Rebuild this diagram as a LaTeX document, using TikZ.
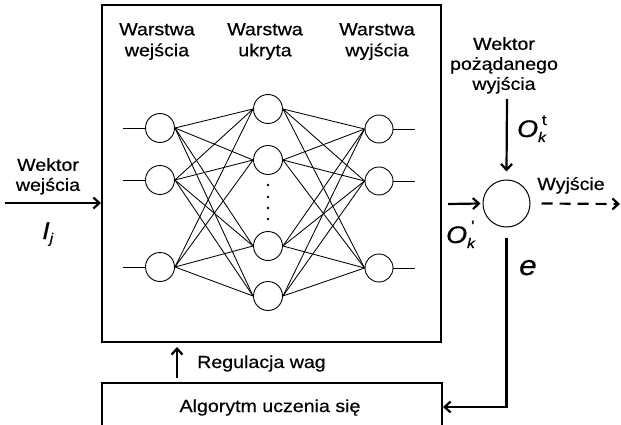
\documentclass[tikz,border=0pt]{standalone}
\usepackage{fontspec}
\setmainfont[FakeStretch=1.12,FakeBold=0.6]{Liberation Sans}
\usetikzlibrary{arrows.meta}
\newcommand{\Olab}[1]{{\fontsize{24}{24}\selectfont\itshape O}\raisebox{-5pt}{\fontsize{14}{14}\selectfont\itshape k}\hspace{-4pt}\raisebox{12pt}{\fontsize{15}{15}\selectfont #1}}
\begin{document}
\begin{tikzpicture}[x=1pt,y=-1pt,
  neuron/.style={circle,draw,line width=0.9pt,minimum size=29pt,inner sep=0pt},
  lbl/.style={font=\fontsize{17.5}{21}\selectfont,align=center,inner sep=0pt},
  conn/.style={line width=0.85pt},
  box/.style={draw,line width=1.1pt},
  arr/.style={line width=2.2pt,-{Straight Barb[length=6pt,width=11pt,line width=2.2pt]}},
]
\useasboundingbox (0,0) rectangle (621,425);

% main network box
\node[box,minimum width=339pt,minimum height=337pt,inner sep=0pt] (net) at (271.5,173.5) {};

% layer headers
\node[lbl,anchor=north] (hin)  at (157,23) {Warstwa\\wejścia};
\node[lbl,anchor=north] (hhid) at (265,23) {Warstwa\\ukryta};
\node[lbl,anchor=north] (hout) at (377,23) {Warstwa\\wyjścia};

% neurons
\node[neuron] (i1) at (160,128) {};
\node[neuron] (i2) at (160,180) {};
\node[neuron] (i3) at (160,267) {};
\node[neuron] (h1) at (268,109) {};
\node[neuron] (h2) at (268,160) {};
\node[neuron] (h3) at (268,246) {};
\node[neuron] (h4) at (268,296) {};
\node[neuron,minimum size=28pt] (o1) at (379,129) {};
\node[neuron,minimum size=28pt] (o2) at (379,181) {};
\node[neuron,minimum size=28pt] (o3) at (379,268) {};

% input / output stubs
\coordinate (si1) at (123,128);
\coordinate (si2) at (123,180);
\coordinate (si3) at (123,267);
\coordinate (so1) at (415,129);
\coordinate (so2) at (415,181);
\coordinate (so3) at (415,268);
\foreach \k in {1,2,3}{
  \draw[conn] (si\k) -- (i\k.west);
  \draw[conn] (o\k.east) -- (so\k);
}

% connections
\foreach \a in {1,2,3}{
  \foreach \b in {1,2,3,4}{
    \draw[conn] (i\a.east) -- (h\b.west);
  }
}
\foreach \b in {1,2,3,4}{
  \foreach \c in {1,2,3}{
    \draw[conn] (h\b.east) -- (o\c.west);
  }
}

% dots
\foreach \yy in {185,197,208,219}{
  \fill (268,\yy) circle (1.4pt);
}

% input vector
\node[lbl,anchor=north,font=\fontsize{17.5}{20}\selectfont] (win) at (48,158) {Wektor\\wejścia};
\coordinate (instart) at (5,203);
\coordinate (inend) at (101,203);
\draw[arr,line width=2.6pt] (instart) -- (inend);
\node[inner sep=0pt,anchor=base west] (ij) at (42,239)
  {{\fontsize{24}{24}\selectfont\itshape I}\raisebox{-4pt}{\fontsize{14}{14}\selectfont\itshape j}};

% summing node
\node[circle,draw,line width=1pt,minimum size=47pt,inner sep=0pt] (sum) at (506.5,203.5) {};
\node[lbl,anchor=north,font=\fontsize{17.5}{20}\selectfont] (want) at (504,37) {Wektor\\pożądanego\\wyjścia};
\coordinate (dtop) at (507,99);
\draw[arr] (dtop) -- ([yshift=8pt]sum.north);
\node[inner sep=0pt,anchor=base west] (ot) at (517,137) {\Olab{t}};

\coordinate (lin) at (448,204);
\draw[arr] (lin) -- ([xshift=-2pt]sum.west);
\node[inner sep=0pt,anchor=base west] (op) at (446,243) {\Olab{\char"0027}};

\coordinate (outend) at (620,204);
\draw[arr,dash pattern=on 11pt off 7pt] ([xshift=11pt]sum.east) -- (outend);
\node[lbl,anchor=base] (wy) at (571,190) {Wyjście};

% error feedback
\coordinate (algoin) at (443,407);
\draw[arr] ([yshift=-10pt]sum.south) |- (algoin);
\node[inner sep=0pt,anchor=base west,font=\fontsize{28}{28}\selectfont\itshape] (err) at (519,275) {e};

% learning algorithm box
\node[lbl,anchor=base] (algo) at (270,412) {Algorytm uczenia się};
\draw[line width=1.1pt] (102,426) -- (102,383) -- (442,383) -- (442,426);

% weight adjustment
\coordinate (rega) at (177,378);
\coordinate (regb) at (177,347);
\draw[arr] (rega) -- (regb);
\node[lbl,anchor=base west] (reg) at (197,368) {Regulacja wag};
\end{tikzpicture}
\end{document}
